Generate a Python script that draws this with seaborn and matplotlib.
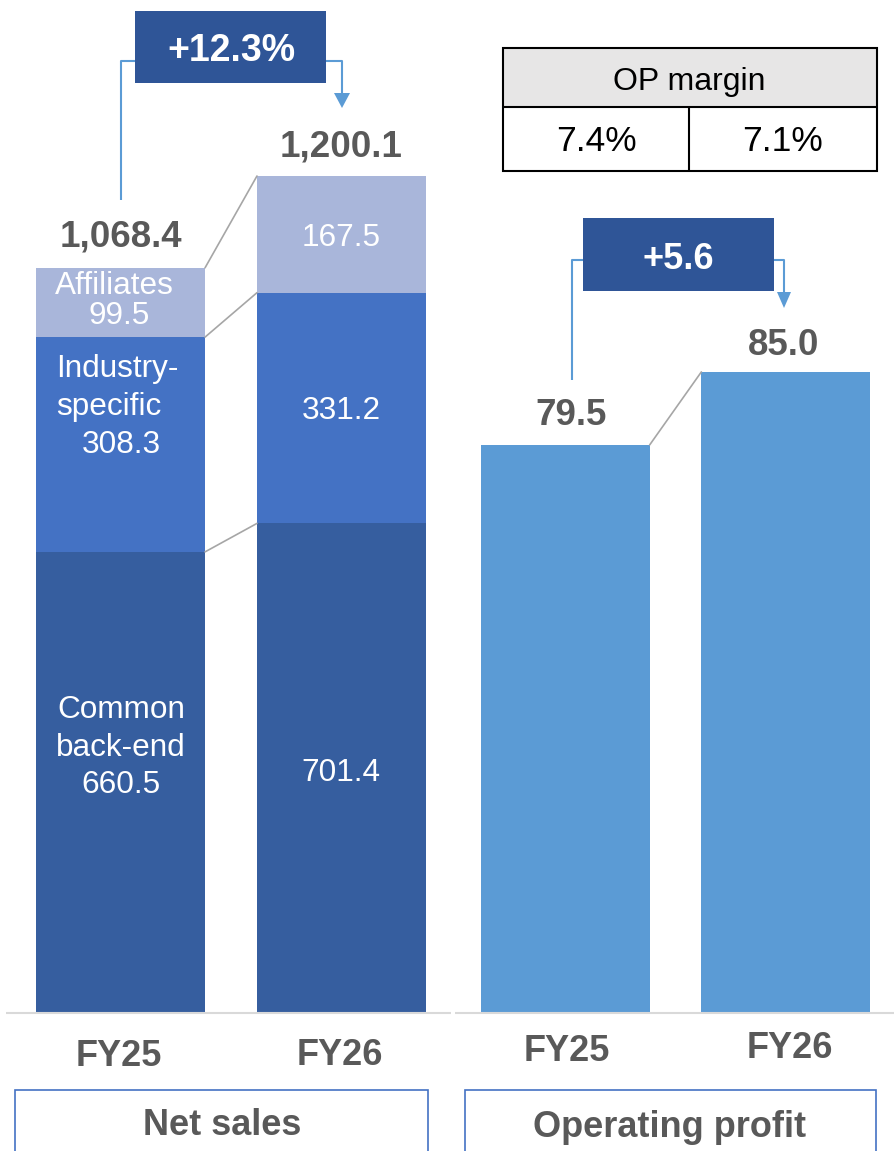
import matplotlib
matplotlib.use("Agg")
import matplotlib.pyplot as plt
import seaborn as sns
import numpy as np
from matplotlib.patches import Rectangle, Polygon
from matplotlib.lines import Line2D

# ---------------- data ----------------
years = ["FY25", "FY26"]
common = [660.5, 701.4]
industry = [308.3, 331.2]
affiliates = [99.5, 167.5]
totals = [1068.4, 1200.1]
op_profit = [79.5, 85.0]
op_margin = ["7.4%", "7.1%"]
sales_change = "+12.3%"
op_change = "+5.6"
seg_names_fy25 = ["Affiliates", "Industry-\nspecific", "Common\nback-end"]
panel_titles = ["Net sales", "Operating profit"]

# ---------------- style ----------------
sns.set_theme(style="white")
plt.rcParams["font.family"] = ["Liberation Sans", "DejaVu Sans"]

C_COMMON = "#365E9F"
C_IND = "#4472C4"
C_AFF = "#A9B6DA"
C_OP = "#5B9BD5"
C_BOX = "#2F5597"
C_ARROW = "#5B9BD5"
C_TXT = "#595959"
C_CONN = "#A6A6A6"

W, H = 894, 1151
fig = plt.figure(figsize=(W / 100, H / 100), dpi=100)


def fx(x):
    return x / W


def fy(y):
    return 1 - y / H


def ptext(x, yc, s, size, bold=False, color=C_TXT, ha="center"):
    em = size * 100 / 72
    base = yc + 0.358 * em
    fig.text(fx(x), fy(base), s, ha=ha, va="baseline", fontsize=size,
             fontweight="bold" if bold else "normal", color=color, zorder=20)


def pline(pts, color, lw, z=5):
    xs = [fx(p[0]) for p in pts]
    ys = [fy(p[1]) for p in pts]
    fig.add_artist(Line2D(xs, ys, color=color, lw=lw, transform=fig.transFigure,
                          zorder=z, solid_capstyle="butt"))


def ppoly(pts, color, z=5):
    fig.add_artist(Polygon([(fx(a), fy(b)) for a, b in pts], closed=True,
                           facecolor=color, edgecolor="none",
                           transform=fig.transFigure, zorder=z))


def prect(x0, y0, x1, y1, fc, ec, lw, z=3):
    fig.add_artist(Rectangle((fx(x0), fy(y1)), fx(x1) - fx(x0), fy(y0) - fy(y1),
                             facecolor=fc, edgecolor=ec, lw=lw,
                             transform=fig.transFigure, zorder=z))


BASE = 1012
BW = 0.765

# ---------------- left panel: net sales ----------------
axL = fig.add_axes([fx(10), fy(BASE), fx(445) - fx(10), BASE / H])
cum2 = [a + b for a, b in zip(common, industry)]
cum3 = [a + b for a, b in zip(cum2, affiliates)]
for vals, col in [(cum3, C_AFF), (cum2, C_IND), (common, C_COMMON)]:
    sns.barplot(x=years, y=vals, color=col, saturation=1, width=BW, ax=axL,
                linewidth=0)
for lvl in [common, cum2, cum3]:
    axL.plot([0 + BW / 2, 1 - BW / 2], [lvl[0], lvl[1]], color=C_CONN, lw=1.2)
axL.set_xlim(-0.5, (445 - 120.5) / 221)
axL.set_ylim(0, totals[1] * BASE / (BASE - 176))
axL.set_axis_off()

# ---------------- right panel: operating profit ----------------
axR = fig.add_axes([fx(455), fy(BASE), fx(894) - fx(455), BASE / H])
sns.barplot(x=years, y=op_profit, color=C_OP, saturation=1, width=BW, ax=axR,
            linewidth=0)
axR.plot([0 + BW / 2, 1 - BW / 2], op_profit, color=C_CONN, lw=1.2)
axR.set_xlim(-110.5 / 220, (894 - 565.5) / 220)
axR.set_ylim(36.8, 36.8 + BASE / 13.28)
axR.set_axis_off()

# baselines
pline([(6, 1013), (451, 1013)], "#D9D9D9", 1.5, z=6)
pline([(455, 1013), (894, 1013)], "#D9D9D9", 1.5, z=6)

# ---------------- segment labels ----------------
SEG = 22.7
WHITE = "white"
# FY25
ptext(114, 283, seg_names_fy25[0], SEG, color=WHITE)
ptext(119, 313, f"{affiliates[0]:.1f}", SEG, color=WHITE)
ind_lines = seg_names_fy25[1].split("\n")
ptext(117.5, 366, ind_lines[0], SEG, color=WHITE)
ptext(109, 404, ind_lines[1], SEG, color=WHITE)
ptext(121, 442, f"{industry[0]:.1f}", SEG, color=WHITE)
com_lines = seg_names_fy25[2].split("\n")
ptext(121, 707, com_lines[0], SEG, color=WHITE)
ptext(121, 745, com_lines[1], SEG, color=WHITE)
ptext(121, 782, f"{common[0]:.1f}", SEG, color=WHITE)
# FY26
ptext(341, 235, f"{affiliates[1]:.1f}", SEG, color=WHITE)
ptext(341, 408, f"{industry[1]:.1f}", SEG, color=WHITE)
ptext(341, 770, f"{common[1]:.1f}", SEG, color=WHITE)

# totals
TOT = 26.5
ptext(121, 233, f"{totals[0]:,.1f}", TOT, bold=True)
ptext(341, 143, f"{totals[1]:,.1f}", TOT, bold=True)
ptext(571, 412, f"{op_profit[0]:.1f}", TOT, bold=True)
ptext(784, 342, f"{op_profit[1]:.1f}", TOT, bold=True)

# ---------------- change boxes + arrows ----------------
prect(135, 11, 326, 83, C_BOX, "none", 0, z=7)
ptext(231, 48, sales_change, 27, bold=True, color="white")
pline([(121, 200), (121, 61), (135, 61)], C_ARROW, 1.5)
pline([(326, 61), (342, 61), (342, 94)], C_ARROW, 1.5)
ppoly([(334, 93), (350, 93), (342, 108)], C_ARROW)

prect(583, 218, 774, 291, C_BOX, "none", 0, z=7)
ptext(678, 256, op_change, 26, bold=True, color="white")
pline([(572, 380), (572, 260), (583, 260)], C_ARROW, 1.5)
pline([(774, 260), (784, 260), (784, 293)], C_ARROW, 1.5)
ppoly([(777, 292), (791, 292), (784, 308)], C_ARROW)

# ---------------- OP margin table ----------------
prect(503, 48, 877, 107, "#E7E6E6", "none", 0, z=3)
prect(503, 48, 877, 171, "none", "black", 1.5, z=4)
pline([(503, 107), (877, 107)], "black", 1.5)
pline([(689, 107), (689, 171)], "black", 1.5)
ptext(689, 79, "OP margin", 23, color="black")
ptext(596, 138, op_margin[0], 25.5, color="black")
ptext(782, 138, op_margin[1], 25.5, color="black")

# ---------------- x labels ----------------
FYS = 26
ptext(119, 1053, years[0], FYS, bold=True)
ptext(340, 1052, years[1], FYS, bold=True)
ptext(567, 1048, years[0], FYS, bold=True)
ptext(790, 1045, years[1], FYS, bold=True)

# ---------------- panel title boxes ----------------
prect(15, 1090, 428, 1165, "none", C_IND, 1.2, z=3)
prect(465, 1090, 876, 1165, "none", C_IND, 1.2, z=3)
ptext(222, 1122, panel_titles[0], 26, bold=True)
ptext(670, 1124, panel_titles[1], 26, bold=True)

fig.savefig("out.png", dpi=100)
